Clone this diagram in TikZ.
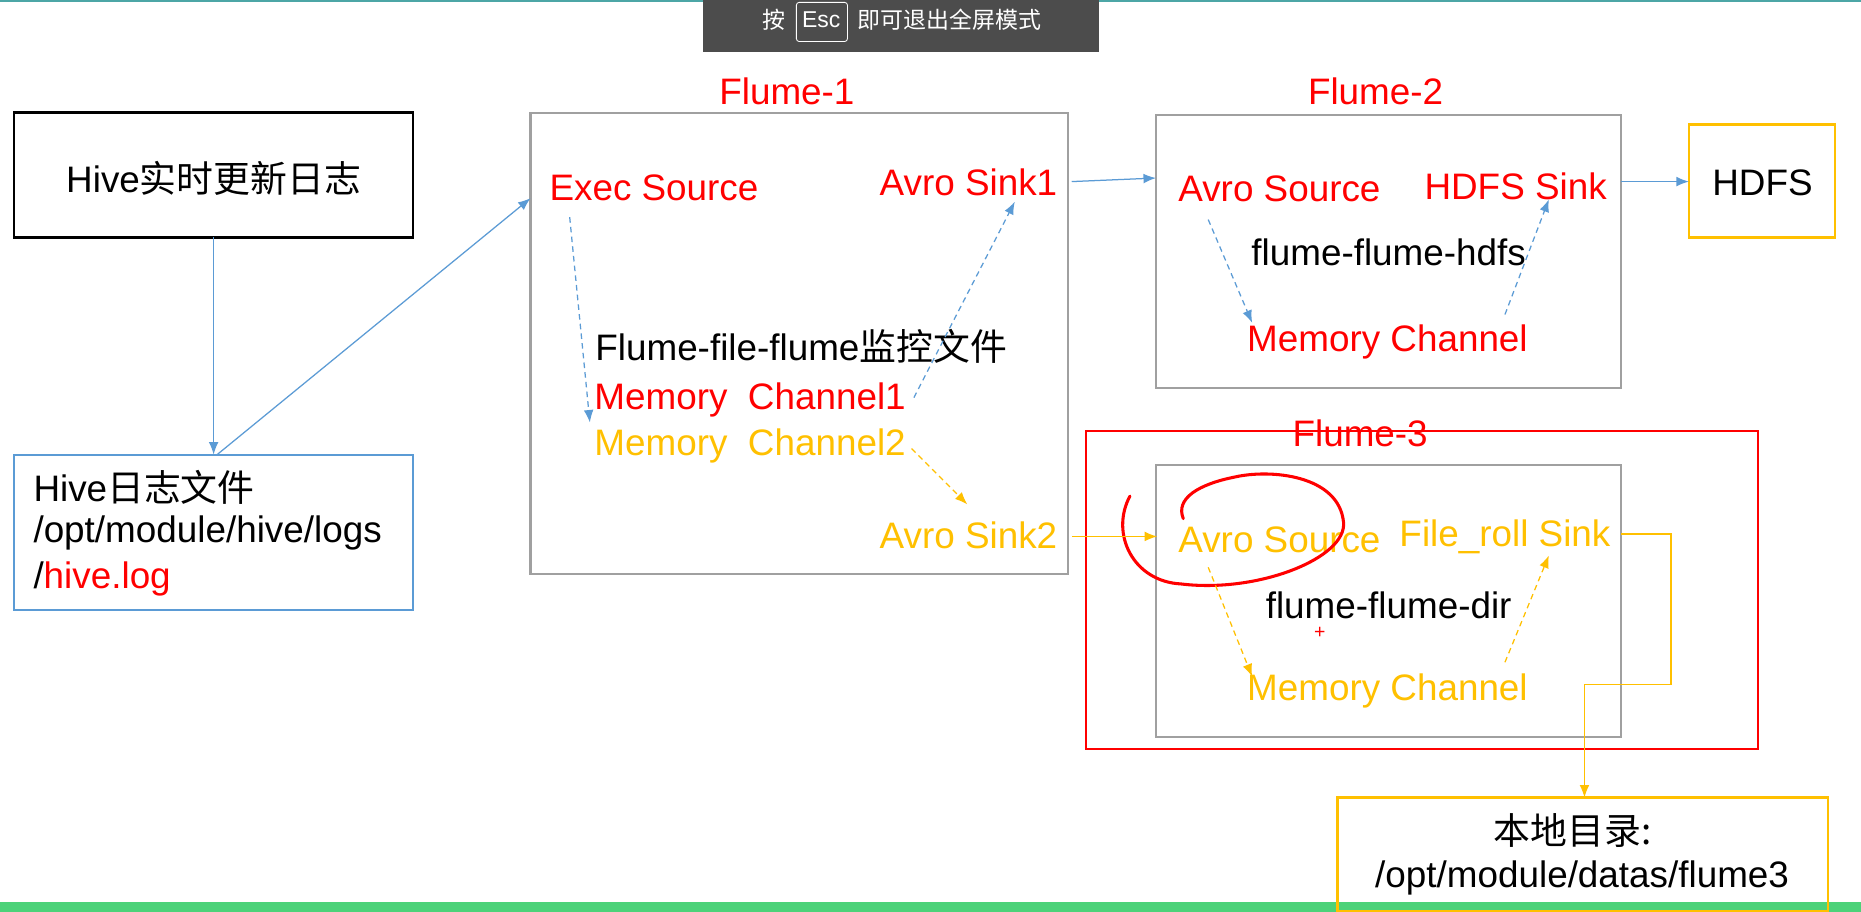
\documentclass[tikz,border=0pt]{standalone}
\usepackage{fontspec}
\setmainfont{Liberation Sans}
\newfontfamily\cjk{Noto Sans CJK SC}
\usetikzlibrary{arrows.meta}
\definecolor{fred}{HTML}{FF0000}
\definecolor{fyel}{HTML}{FFC000}
\definecolor{fblue}{HTML}{5B9BD5}
\definecolor{fgray}{HTML}{A0A0A0}
\begin{document}
\begin{tikzpicture}[x=0.03cm,y=-0.03cm,
  txt/.style={font=\fontsize{26.5}{30}\selectfont,inner sep=0pt},
  bar/.style={txt,white,font=\fontsize{16.5}{18}\selectfont},
  box/.style={draw=fgray,line width=1.5pt},
  bl/.style={fblue,line width=0.9pt,-{Latex[length=9pt,width=7pt]}},
  yl/.style={fyel,line width=0.9pt,-{Latex[length=9pt,width=7pt]}},
  dsh/.style={dash pattern=on 4pt off 3pt}]
\useasboundingbox (0,0) rectangle (1568,768);
\fill[white] (0,0) rectangle (1568,768);
\fill[teal!70] (0,0) rectangle (1568,2);
\fill[green!50!teal!70] (0,760) rectangle (1568,768);
% top bar
\fill[black!70] (592,0) rectangle (926,44);
\draw[white,line width=0.6pt,rounded corners=2pt] (671,2) rectangle (714,35);
\node[bar] at (652,17) {\cjk 按};
\node[bar] at (692,17) {Esc};
\node[bar] at (800,17) {\cjk 即可退出全屏模式};
% left boxes
\draw[black,line width=1.8pt] (12,95) rectangle (348,200);
\node[txt] (hrtt) at (180,150) {Hive{\cjk 实时更新日志}};
\coordinate (hrtb) at (180,200);
\draw[fblue,line width=1.5pt] (12,383) rectangle (348,514);
\node[txt,anchor=west] at (28,411) {Hive{\cjk 日志文件}};
\node[txt,anchor=west] at (28,449) {/opt/module/hive/logs};
\node[txt,anchor=west] at (28,488) {/\textcolor{fred}{hive.log}};
\coordinate (hlt) at (180,383);
\coordinate (hlt2) at (183,383);
% Flume-1
\draw[box] (447,95) rectangle (900,484);
\node[txt,fred] at (663,77) {Flume-1};
\node[txt,fred] (exec) at (551,158) {Exec Source};
\node[txt,fred] (as1) at (816,154) {Avro Sink1};
\node[txt] at (675,292) {Flume-file-flume{\cjk 监控文件}};
\node[txt,fred] (mc1) at (632,337) {Memory\ \ Channel1};
\node[txt,fyel] (mc2) at (632,376) {Memory\ \ Channel2};
\node[txt,fyel] (as2) at (816,451) {Avro Sink2};
\coordinate (f1in) at (447,167);
% Flume-2
\draw[box] (974,97) rectangle (1366,327);
\node[txt,fred] at (1159,77) {Flume-2};
\node[txt,fred] (avs2) at (1078,159) {Avro Source};
\node[txt,fred] (hs) at (1277,157) {HDFS Sink};
\node[txt] at (1170,213) {flume-flume-hdfs};
\node[txt,fred] (mcf2) at (1169,288) {Memory Channel};
% HDFS
\draw[fyel,line width=1.8pt] (1423,105) rectangle (1546,200);
\node[txt] (hdfs) at (1485,154) {HDFS};
% Flume-3
\draw[fred,line width=1.5pt] (915,363) rectangle (1481,631);
\draw[box] (974,392) rectangle (1366,621);
\node[txt,fred] at (1146,365) {Flume-3};
\node[txt,fyel] (avs3) at (1078,455) {Avro Source};
\node[txt,fyel] (frs) at (1268,452) {File\_roll Sink};
\node[txt] at (1170,510) {flume-flume-dir};
\node[txt,fyel] (mcf3) at (1169,582) {Memory Channel};
\node[fred,font=\fontsize{14}{16}\selectfont,inner sep=0pt] at (1112,533) {+};
\draw[fred,line width=2.2pt,line cap=round] (952,418) .. controls (935,450) and (955,490) .. (995,492)
  .. controls (1060,500) and (1135,470) .. (1132,440)
  .. controls (1128,400) and (1070,395) .. (1040,402)
  .. controls (1010,408) and (990,420) .. (997,437);
% local dir
\draw[fyel,line width=1.8pt] (1127,672) rectangle (1540,768);
\node[txt] (loc) at (1325,700) {\cjk 本地目录:};
\node[txt] at (1333,740) {/opt/module/datas/flume3};
% arrows
\draw[bl] (hrtb) -- (hlt);
\draw[bl] (hlt2) -- (f1in);
\draw[bl] (903,153) -- (974,150);
\draw[bl] (1366,153) -- (1423,153);
\draw[bl,dsh] (480,183) -- (497,356);
\draw[bl,dsh] (770,335) -- (855,170);
\draw[bl,dsh] (1018,185) -- (1055,272);
\draw[bl,dsh] (1268,265) -- (1305,168);
\draw[yl,dsh] (768,378) -- (815,425);
\draw[yl] (903,452) -- (975,452);
\draw[yl,dsh] (1018,478) -- (1055,570);
\draw[yl,dsh] (1268,558) -- (1305,468);
\draw[yl] (1366,450) -- (1408,450) -- (1408,577) -- (1335,577) -- (1335,672);
\end{tikzpicture}
\end{document}
